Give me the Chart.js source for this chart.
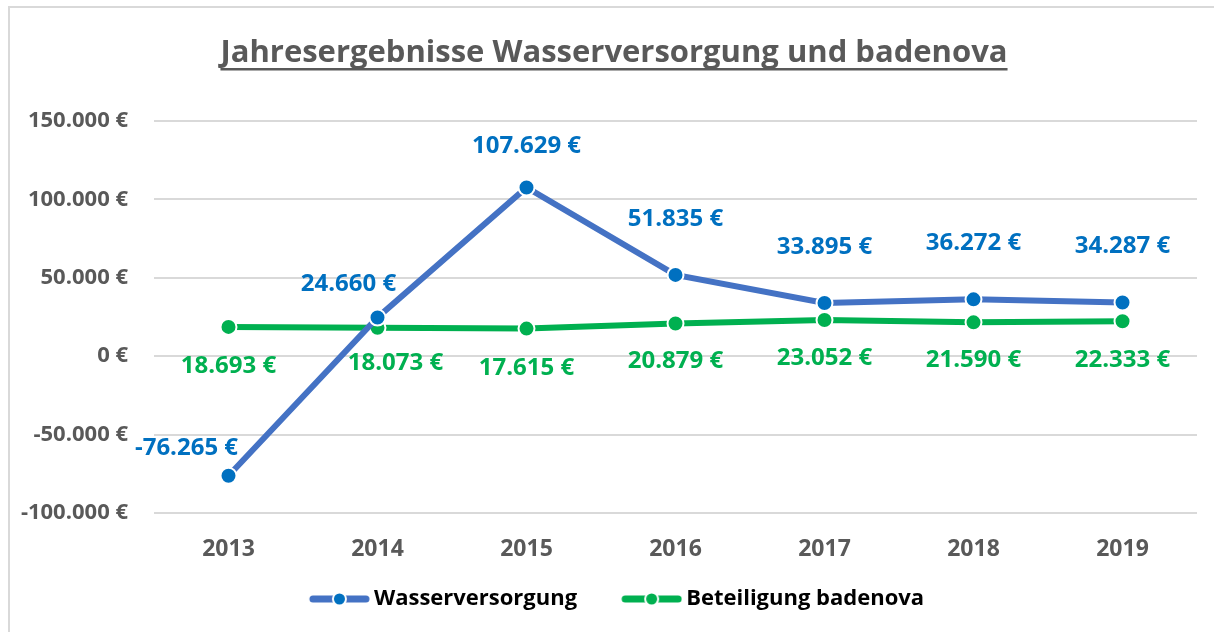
<!DOCTYPE html>
<html>
<head>
<meta charset="utf-8">
<script src="https://cdn.jsdelivr.net/npm/chart.js@4.4.1/dist/chart.umd.min.js"></script>
<style>
  html, body { margin: 0; padding: 0; background: #fff; }
  #wrap { width: 1214px; height: 632px; position: relative; }
</style>
</head>
<body>
<div id="wrap"><canvas id="chart" width="1214" height="632"></canvas></div>
<script>
const title = 'Jahresergebnisse Wasserversorgung und badenova';
const years = ['2013', '2014', '2015', '2016', '2017', '2018', '2019'];
const wasserversorgung = [-76265, 24660, 107629, 51835, 33895, 36272, 34287];
const beteiligung = [18693, 18073, 17615, 20879, 23052, 21590, 22333];
const seriesNames = ['Wasserversorgung', 'Beteiligung badenova'];

// label offsets (px) relative to each point, like the moved Excel labels
const wasserLabelOffsets = [[-42, -28], [-29, -33], [0, -41], [0, -56], [0, -56], [0, -56], [0, -56]];
const beteiligungLabelOffsets = [[0, 39], [18, 35], [0, 40], [0, 38], [0, 38], [0, 38], [0, 39]];

const FONT = '"Open Sans"';
const GRAY = '#595959';
const BLUE_LINE = '#4472C4';
const BLUE_DOT = '#0070C0';
const GREEN = '#00B050';
const ICON_BOX = 90;

function euro(v) {
  const s = Math.abs(v).toString().replace(/\B(?=(\d{3})+(?!\d))/g, '.');
  return (v < 0 ? '-' : '') + s + ' €';
}

// legend marker: line with dot, sitting at the right end of the legend box
function legendIcon(lineColor, dotColor) {
  const c = document.createElement('canvas');
  c.width = ICON_BOX + 14; c.height = 16;
  const g = c.getContext('2d');
  const end = c.width - 4;
  const start = end - 53;
  g.strokeStyle = lineColor;
  g.lineWidth = 7;
  g.lineCap = 'round';
  g.beginPath(); g.moveTo(start, 8); g.lineTo(end, 8); g.stroke();
  g.fillStyle = dotColor;
  g.strokeStyle = '#fff';
  g.lineWidth = 2;
  g.beginPath(); g.arc((start + end) / 2, 8, 6.5, 0, Math.PI * 2); g.fill(); g.stroke();
  return c;
}

const frame = {
  id: 'frame',
  beforeDraw(chart) {
    const g = chart.ctx;
    g.save();
    g.strokeStyle = '#D9D9D9';
    g.lineWidth = 2;
    g.beginPath();
    g.moveTo(9, 632); g.lineTo(9, 7); g.lineTo(1214, 7);
    g.stroke();
    g.restore();
  },
  afterDraw(chart) {
    const g = chart.ctx;
    g.save();
    g.font = `bold 31px ${FONT}`;
    g.fillStyle = GRAY;
    g.textAlign = 'center';
    g.textBaseline = 'alphabetic';
    const w = g.measureText(title).width;
    g.fillText(title, 614, 62);
    g.fillRect(614 - w / 2, 68, w, 2.5);
    g.restore();
  }
};

const labels = {
  id: 'pointLabels',
  afterDatasetsDraw(chart) {
    const g = chart.ctx;
    g.save();
    g.font = `bold 24px ${FONT}`;
    g.textAlign = 'center';
    g.textBaseline = 'middle';
    const sets = [[wasserversorgung, wasserLabelOffsets, BLUE_DOT], [beteiligung, beteiligungLabelOffsets, GREEN]];
    sets.forEach(([vals, offs, col], di) => {
      const meta = chart.getDatasetMeta(di);
      g.fillStyle = col;
      meta.data.forEach((pt, i) => {
        g.fillText(euro(vals[i]), pt.x + offs[i][0], pt.y + offs[i][1]);
      });
    });
    g.restore();
  }
};

new Chart(document.getElementById('chart'), {
  type: 'line',
  data: {
    labels: years,
    datasets: [
      {
        label: seriesNames[0],
        data: wasserversorgung,
        borderColor: BLUE_LINE,
        backgroundColor: BLUE_DOT,
        pointBackgroundColor: BLUE_DOT,
        pointBorderColor: '#fff',
        pointBorderWidth: 2,
        pointRadius: 8,
        borderWidth: 6,
        tension: 0
      },
      {
        label: seriesNames[1],
        data: beteiligung,
        borderColor: GREEN,
        backgroundColor: GREEN,
        pointBackgroundColor: GREEN,
        pointBorderColor: '#fff',
        pointBorderWidth: 2,
        pointRadius: 8,
        borderWidth: 6,
        tension: 0
      }
    ]
  },
  options: {
    responsive: false,
    animation: false,
    layout: { padding: { top: 121, right: 17, left: 0, bottom: 12 } },
    plugins: {
      title: { display: false },
      tooltip: { enabled: false },
      legend: {
        position: 'bottom',
        labels: {
          color: '#000',
          font: { family: 'Open Sans', size: 22, weight: 'bold' },
          usePointStyle: true,
          pointStyleWidth: ICON_BOX,
          boxHeight: 16,
          padding: 8,
          generateLabels: (chart) => chart.data.datasets.map((ds, i) => ({
            text: ds.label,
            pointStyle: legendIcon(ds.borderColor, ds.pointBackgroundColor),
            datasetIndex: i,
            fontColor: '#000',
            lineWidth: 0,
            strokeStyle: 'transparent',
            fillStyle: 'transparent'
          }))
        }
      }
    },
    scales: {
      x: {
        offset: true,
        grid: { display: false, drawTicks: false },
        border: { display: false },
        ticks: { color: GRAY, font: { family: 'Open Sans', size: 23, weight: 'bold' }, padding: 23 },
        afterFit: (s) => { s.height = 67; }
      },
      y: {
        min: -100000,
        max: 150000,
        grid: { color: '#D9D9D9', lineWidth: 2, drawTicks: false },
        border: { display: false },
        ticks: {
          stepSize: 50000,
          color: GRAY,
          padding: 26,
          font: { family: 'Open Sans', size: 22, weight: 'bold' },
          callback: (v) => euro(v)
        },
        afterFit: (s) => { s.width = 154; }
      }
    }
  },
  plugins: [frame, labels]
});
</script>
</body>
</html>
